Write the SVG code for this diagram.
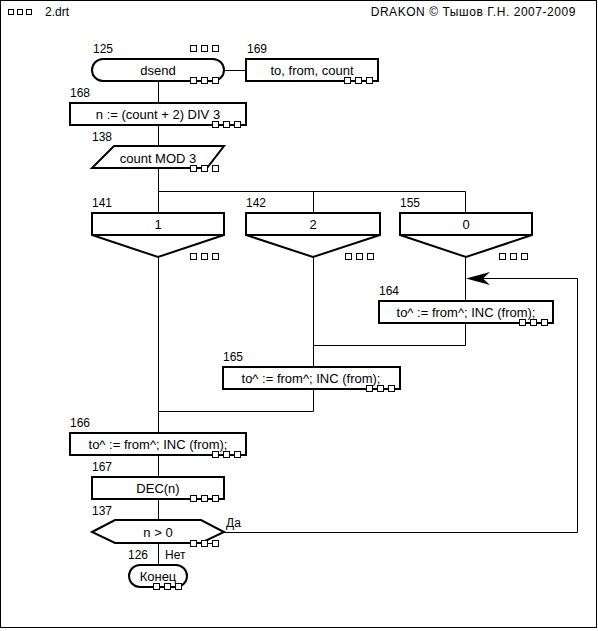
<svg xmlns="http://www.w3.org/2000/svg" width="598" height="631" viewBox="0 0 598 631">
<style>
text{font-family:"Liberation Sans",Arial,sans-serif;font-size:12px;fill:#000}
.c{text-anchor:middle;font-size:13px}
.n{fill:#fff;stroke:#000;stroke-width:2}
.l{fill:none;stroke:#000;stroke-width:1}
.sq{fill:#fff;stroke:#000;stroke-width:1}
</style>
<defs>
<g id="sq3"><rect class="sq" x="0.5" y="0.5" width="6" height="6"/><rect class="sq" x="11.5" y="0.5" width="6" height="6"/><rect class="sq" x="22.5" y="0.5" width="6" height="6"/></g>
<g id="sq3c"><path class="l" d="M6.5 3.5H11.5M17.5 3.5H22.5"/><use href="#sq3"/></g>
</defs>
<rect x="0" y="0" width="598" height="631" fill="#fff"/>
<rect class="l" x="0.5" y="0.5" width="596" height="627"/>
<g id="header">
<rect class="sq" x="8.5" y="9.5" width="5" height="5"/><rect class="sq" x="17.5" y="9.5" width="5" height="5"/><rect class="sq" x="26.5" y="9.5" width="5" height="5"/>
<text x="45" y="16" font-size="13">2.drt</text>
<text x="576" y="16" text-anchor="end" font-size="13" letter-spacing="0.55">DRAKON © Тышов Г.Н. 2007-2009</text>
</g>
<g id="connectors">
<path class="l" d="M224 70.5H246M158.5 81V103M158.5 125V146M158.5 168V213M158.5 191.5H465.5V213M313.5 191.5V213"/>
<path class="l" d="M158.5 257V433M313.5 257V367M465.5 257V301M465.5 323V345.5H313.5M313.5 389V411.5H158.5"/>
<path class="l" d="M158.5 455V477M158.5 499V520M158.5 543V565"/>
<path class="l" d="M224 532.5H577.5V278.5H480"/>
<polygon points="466,278.5 490,272 483,278.5 490,285" fill="#000"/>
</g>
<g id="n125">
<text x="93" y="53">125</text>
<use href="#sq3" x="190" y="45"/>
<rect class="n" x="92" y="59" width="132" height="22" rx="11"/>
<text class="c" x="158" y="75">dsend</text>
<use href="#sq3c" x="190" y="77"/>
</g>
<g id="n169">
<text x="247" y="53">169</text>
<rect class="n" x="246" y="59" width="132" height="22"/>
<text class="c" x="312" y="75">to, from, count</text>
<use href="#sq3c" x="344" y="77"/>
</g>
<g id="n168">
<text x="70" y="97">168</text>
<rect class="n" x="70" y="103" width="176" height="22"/>
<text class="c" x="158" y="119">n := (count + 2) DIV 3</text>
<use href="#sq3c" x="212" y="121"/>
</g>
<g id="n138">
<text x="92" y="141">138</text>
<polygon class="n" points="114,146 224,146 207,168 92,168"/>
<text class="c" x="158" y="163">count MOD 3</text>
<path class="l" d="M196 168.5H202"/>
<use href="#sq3" x="190" y="165"/>
</g>
<g id="n141">
<text x="92" y="207">141</text>
<polygon class="n" points="92,213 224,213 224,235 158,257 92,235"/>
<path class="n" d="M92 235H224"/>
<text class="c" x="158" y="229">1</text>
<use href="#sq3" x="190" y="253"/>
</g>
<g id="n142">
<text x="246" y="207">142</text>
<polygon class="n" points="246,213 380,213 380,235 313,257 246,235"/>
<path class="n" d="M246 235H380"/>
<text class="c" x="313" y="229">2</text>
<use href="#sq3" x="345" y="253"/>
</g>
<g id="n155">
<text x="400" y="207">155</text>
<polygon class="n" points="400,213 532,213 532,235 466,257 400,235"/>
<path class="n" d="M400 235H532"/>
<text class="c" x="466" y="229">0</text>
<use href="#sq3" x="499" y="253"/>
</g>
<g id="n164">
<text x="379" y="295">164</text>
<rect class="n" x="379" y="301" width="174" height="22"/>
<text class="c" x="466" y="317">to^ := from^; INC (from);</text>
<use href="#sq3c" x="519" y="319"/>
</g>
<g id="n165">
<text x="223" y="361">165</text>
<rect class="n" x="223" y="367" width="177" height="22"/>
<text class="c" x="311" y="383">to^ := from^; INC (from);</text>
<use href="#sq3c" x="366" y="385"/>
</g>
<g id="n166">
<text x="70" y="427">166</text>
<rect class="n" x="70" y="433" width="176" height="22"/>
<text class="c" x="158" y="449">to^ := from^; INC (from);</text>
<use href="#sq3c" x="212" y="451"/>
</g>
<g id="n167">
<text x="92" y="471">167</text>
<rect class="n" x="92" y="477" width="132" height="22"/>
<text class="c" x="158" y="493">DEC(n)</text>
<use href="#sq3c" x="190" y="495"/>
</g>
<g id="n137">
<text x="92" y="515">137</text>
<polygon class="n" points="92,532 115,520 201,520 224,532 201,543 115,543"/>
<text class="c" x="158" y="537">n &gt; 0</text>
<use href="#sq3c" x="190" y="540"/>
<text x="226" y="527">Да</text>
</g>
<g id="n126">
<text x="128" y="559">126</text>
<text x="165" y="559">Нет</text>
<rect class="n" x="129" y="565" width="58" height="22" rx="11"/>
<text class="c" x="158" y="581">Конец</text>
<use href="#sq3c" x="153" y="583"/>
</g>
</svg>
